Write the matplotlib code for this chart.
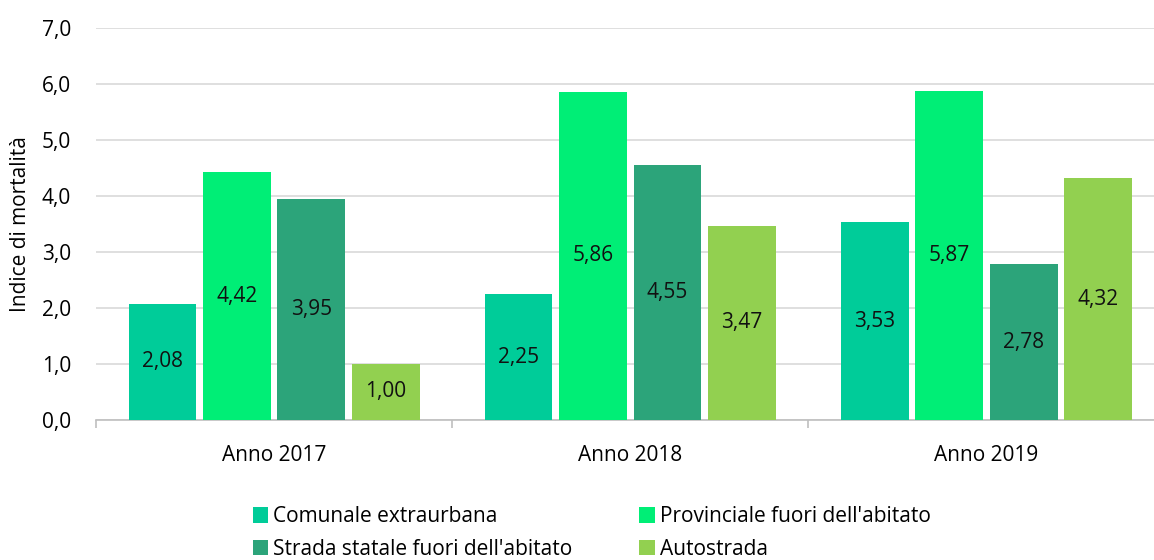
import matplotlib.pyplot as plt
import numpy as np

anni = ['Anno 2017', 'Anno 2018', 'Anno 2019']
serie = ['Comunale extraurbana', "Provinciale fuori dell'abitato",
         "Strada statale fuori dell'abitato", 'Autostrada']
comunale = [2.08, 2.25, 3.53]
provinciale = [4.42, 5.86, 5.87]
statale = [3.95, 4.55, 2.78]
autostrada = [1.00, 3.47, 4.32]
colori = ['#00CC99', '#00EE76', '#2CA47A', '#92D050']

plt.rcParams['font.family'] = ['Open Sans', 'DejaVu Sans']

fig = plt.figure(figsize=(11.54, 5.6), dpi=100)
ax = fig.add_axes([0.0832, 0.25, 0.926, 0.70])

x = np.arange(len(anni))
passo = 0.209
larg = 0.19
valori = [comunale, provinciale, statale, autostrada]
barre_serie = []
for i, (v, nome, c) in enumerate(zip(valori, serie, colori)):
    pos = x + (i - 1.5) * passo
    barre = ax.bar(pos, v, width=larg, color=c, label=nome, zorder=3)
    barre_serie.append(barre)
    for b, val in zip(barre, v):
        ax.text(b.get_x() + b.get_width() / 2, val / 2,
                f'{val:.2f}'.replace('.', ','), ha='center', va='center',
                fontsize=15, color='#111111', zorder=4)

ax.set_xlim(-0.5, 2.5)
ax.set_ylim(0, 7)
ax.set_yticks(np.arange(0, 8, 1))
ax.set_yticklabels([f'{t:.1f}'.replace('.', ',') for t in np.arange(0, 8, 1)])
ax.set_xticks(x)
ax.set_xticklabels(anni)
ax.set_xticks([-0.5, 0.5, 1.5, 2.5], minor=True)
ax.tick_params(axis='x', which='major', length=0, pad=18, labelsize=15)
ax.tick_params(axis='x', which='minor', length=6, color='#BFBFBF', width=1.2)
ax.tick_params(axis='y', length=0, pad=18, labelsize=15)
ax.grid(axis='y', color='#D9D9D9', linewidth=1.2, zorder=0)
for s in ['top', 'right', 'left']:
    ax.spines[s].set_visible(False)
ax.spines['bottom'].set_color('#BFBFBF')
ax.spines['bottom'].set_linewidth(1.2)
ax.set_ylabel('Indice di mortalità', fontsize=15, labelpad=8)

# ordine per righe come nel riferimento
ordine = [0, 2, 1, 3]
ax.legend([barre_serie[k] for k in ordine], [serie[k] for k in ordine],
          loc='upper left', bbox_to_anchor=(0.129, -0.172), ncol=2,
          frameon=False, fontsize=15, handlelength=0.75, handleheight=0.75,
          handletextpad=0.25, columnspacing=3.2, labelspacing=0.55)

fig.savefig('out.png', dpi=100)
